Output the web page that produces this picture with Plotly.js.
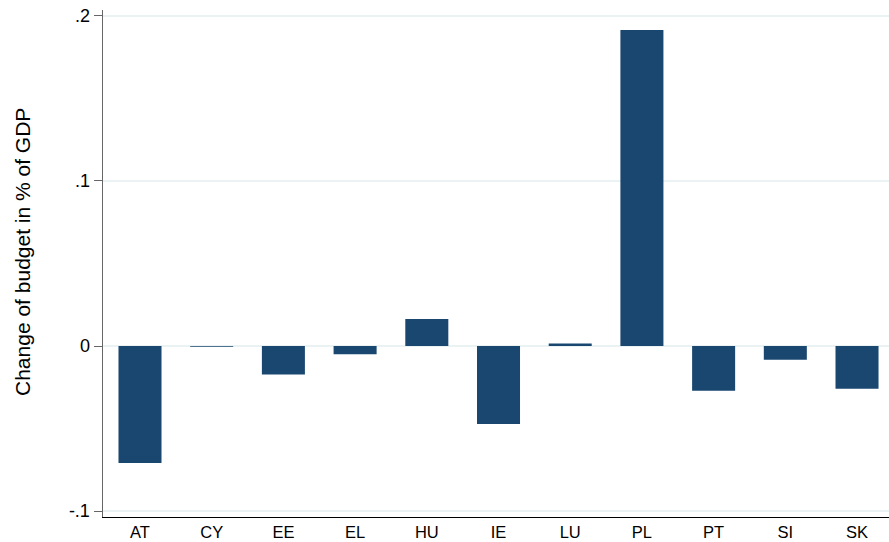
<!DOCTYPE html>
<html><head><meta charset="utf-8">
<script src="https://cdn.plot.ly/plotly-3.0.1.min.js"></script>
<style>html,body{margin:0;padding:0;background:#fff}#c{width:889px;height:542px}</style>
</head><body><div id="c"></div>
<script>
const countries = ["AT","CY","EE","EL","HU","IE","LU","PL","PT","SI","SK"];
const budgetChange = [-0.0709,-0.0005,-0.0172,-0.0050,0.0164,-0.0473,0.0016,0.1915,-0.0271,-0.0083,-0.0259];
const yTickVals = [-0.1,0,0.1,0.2];
const yTickText = ["-.1","0",".1",".2"];
const yTitle = "Change of budget in % of GDP";

Plotly.newPlot("c",[{
  type:"bar", x:countries, y:budgetChange, width:0.6,
  marker:{color:"#1a476f", line:{width:0}}
}],{
  width:889,height:542,
  margin:{l:103,r:0,t:10,b:25},
  paper_bgcolor:"#fff",plot_bgcolor:"#fff",
  font:{family:"Liberation Sans, Arial, sans-serif",color:"#000"},
  showlegend:false,
  xaxis:{type:"category",range:[-0.516,10.446],showgrid:false,zeroline:false,
    showline:true,linecolor:"#000",linewidth:1.2,ticks:"",tickfont:{size:16.5},fixedrange:true},
  yaxis:{range:[-0.1036,0.2036],tickvals:yTickVals,ticktext:yTickText,
    showgrid:true,gridcolor:"#eaf2f3",gridwidth:1.2,zeroline:false,
    showline:true,linecolor:"#666",linewidth:1.5,ticks:"outside",ticklen:8,tickcolor:"#666",
    tickfont:{size:18}},
  annotations:[{text:yTitle,textangle:-90,xref:"paper",yref:"paper",x:-0.1018,y:0.5227,
    xanchor:"center",yanchor:"middle",showarrow:false,font:{size:21}}]
},{displayModeBar:false,staticPlot:true});
</script></body></html>
